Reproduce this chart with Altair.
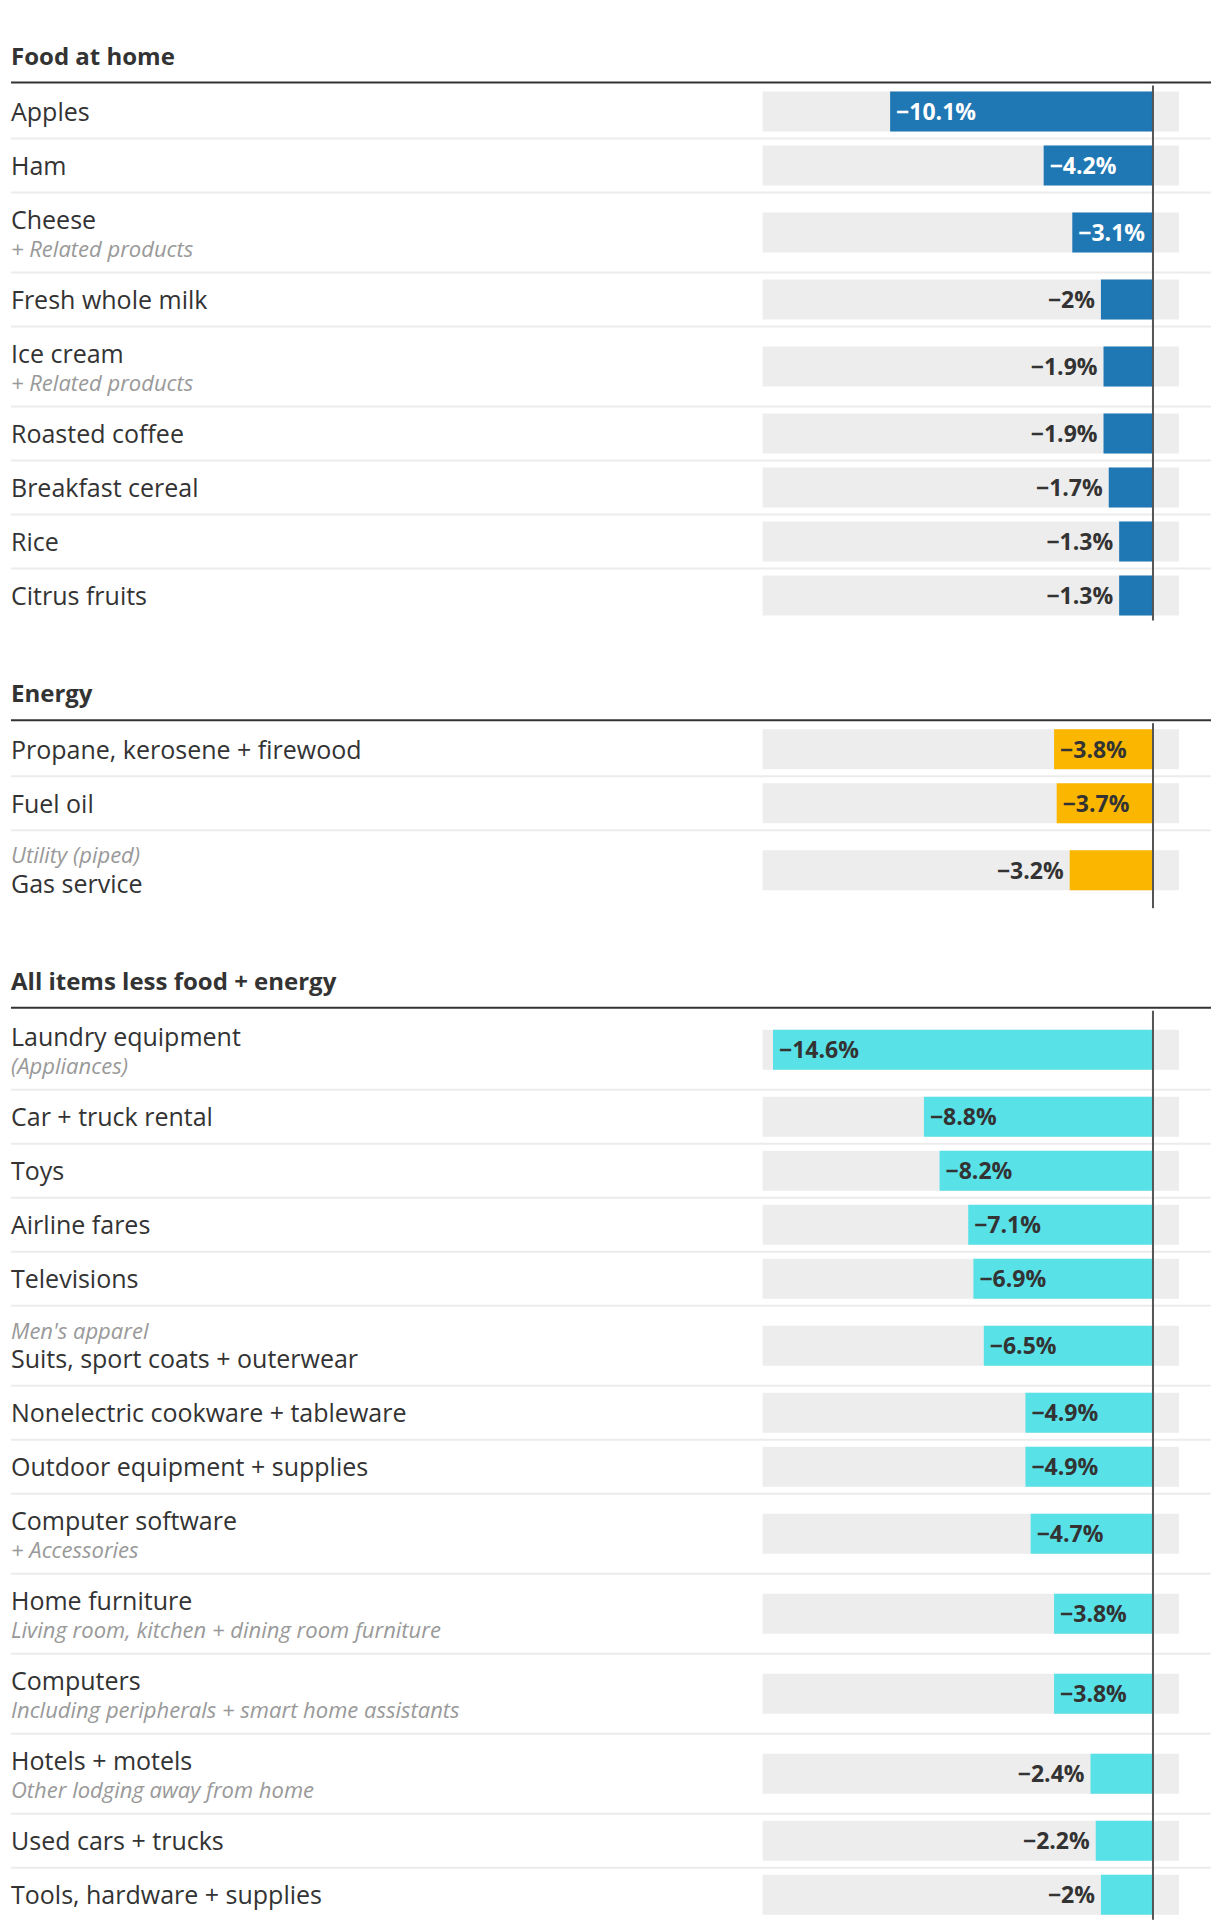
import altair as alt
import pandas as pd

# ---------------- data ----------------
section_titles = ["Food at home", "Energy", "All items less food + energy"]

food_names = ["Apples", "Ham", "Cheese", "Fresh whole milk", "Ice cream",
              "Roasted coffee", "Breakfast cereal", "Rice", "Citrus fruits"]
food_notes = ["", "", "+ Related products", "", "+ Related products", "", "", "", ""]
food_values = [-10.1, -4.2, -3.1, -2.0, -1.9, -1.9, -1.7, -1.3, -1.3]

energy_names = ["Propane, kerosene + firewood", "Fuel oil", "Gas service"]
energy_notes = ["", "", "Utility (piped)"]
energy_values = [-3.8, -3.7, -3.2]

core_names = ["Laundry equipment", "Car + truck rental", "Toys", "Airline fares",
              "Televisions", "Suits, sport coats + outerwear",
              "Nonelectric cookware + tableware", "Outdoor equipment + supplies",
              "Computer software", "Home furniture", "Computers", "Hotels + motels",
              "Used cars + trucks", "Tools, hardware + supplies"]
core_notes = ["(Appliances)", "", "", "", "", "Men's apparel", "", "",
              "+ Accessories", "Living room, kitchen + dining room furniture",
              "Including peripherals + smart home assistants",
              "Other lodging away from home", "", ""]
core_values = [-14.6, -8.8, -8.2, -7.1, -6.9, -6.5, -4.9, -4.9, -4.7, -3.8, -3.8,
               -2.4, -2.2, -2.0]

# notes printed above the item name instead of below
notes_above = ["Gas service", "Suits, sport coats + outerwear"]

# ---------------- style / layout ----------------
bar_colors = ["#1f77b4", "#fbb700", "#59e1e8"]
inside_label_colors = ["#ffffff", "#333333", "#333333"]

W, H = 1200, 1916
X_MIN, X_MAX = -15, 1
X_RANGE = [751.6, 1168.0]
PX_PER_PCT = (X_RANGE[1] - X_RANGE[0]) / (X_MAX - X_MIN)

TOP = 48.0          # center of first section title
TITLE_TO_LINE = 26.6
LINE_TO_ROWS = 2
ROW_SINGLE, ROW_DOUBLE = 54, 80
SECTION_GAP = 71    # last row bottom -> next title
BAR_H = 40
TEXT_DY = 1.5

FONT = "Open Sans"
CHAR_W = {"\u2212": 9, "1": 8, ".": 5, "%": 17}


def fmt(v):
    return "\u2212" + f"{abs(v):g}" + "%"


def label_width(s):
    return sum(CHAR_W.get(c, 12.5) for c in s)


sections = [
    (food_names, food_notes, food_values),
    (energy_names, energy_notes, energy_values),
    (core_names, core_notes, core_values),
]

rows, heads, seps, zeros = [], [], [], []
y = TOP
for si, (names, notes, values) in enumerate(sections):
    line_y = y + TITLE_TO_LINE
    heads.append({"title": section_titles[si], "title_y": y, "line_y": line_y})
    top = line_y + LINE_TO_ROWS
    for i, (n, note, v) in enumerate(zip(names, notes, values)):
        h = ROW_DOUBLE if note else ROW_SINGLE
        c = top + h / 2
        if not note:
            name_y, note_y = c, None
        elif n in notes_above:
            note_y, name_y = top + 24.5, top + 53
        else:
            name_y, note_y = top + 27, top + 56
        lab = fmt(v)
        inside = abs(v) * PX_PER_PCT >= label_width(lab) + 28
        rows.append({
            "name": n, "note": note, "value": v, "label": lab,
            "center": c, "y0": c - BAR_H / 2, "y1": c + BAR_H / 2,
            "name_y": name_y, "note_y": note_y,
            "inside": inside,
            "bar_color": bar_colors[si],
            "label_color": inside_label_colors[si] if inside else "#333333",
        })
        top += h
        if i < len(names) - 1:
            seps.append({"y": top})
    zeros.append({"y0": line_y + 3, "y1": top - 2})
    y = top + SECTION_GAP

rows_df = pd.DataFrame(rows)
notes_df = rows_df[rows_df["note"] != ""]
heads_df = pd.DataFrame(heads)
seps_df = pd.DataFrame(seps)
zeros_df = pd.DataFrame(zeros)

xs = alt.Scale(domain=[X_MIN, X_MAX], range=X_RANGE)
ys = alt.Scale(domain=[0, H], range=[0, H])

base = alt.Chart(rows_df)

bg = base.mark_rect(color="#ededed").encode(
    x=alt.XDatum(X_MIN, scale=xs, axis=None),
    x2=alt.X2Datum(X_MAX),
    y=alt.Y("y0:Q", scale=ys, axis=None),
    y2="y1:Q",
)

bars = base.mark_rect().encode(
    x=alt.X("value:Q", scale=xs, axis=None),
    x2=alt.X2Datum(0),
    y=alt.Y("y0:Q", scale=ys, axis=None),
    y2="y1:Q",
    color=alt.Color("bar_color:N", scale=None),
)

sep_rules = alt.Chart(seps_df).mark_rule(color="#ececec", strokeWidth=2).encode(
    x=alt.value(0), x2=alt.value(W),
    y=alt.Y("y:Q", scale=ys, axis=None),
)

zero_rules = alt.Chart(zeros_df).mark_rule(color="#555555", strokeWidth=2).encode(
    x=alt.XDatum(0, scale=xs, axis=None),
    y=alt.Y("y0:Q", scale=ys, axis=None),
    y2="y1:Q",
)

head_rules = alt.Chart(heads_df).mark_rule(color="#333333", strokeWidth=2).encode(
    x=alt.value(0), x2=alt.value(W),
    y=alt.Y("line_y:Q", scale=ys, axis=None),
)

head_text = alt.Chart(heads_df).mark_text(
    align="left", baseline="middle", dy=TEXT_DY, font=FONT, fontSize=24,
    fontWeight="bold", color="#333333",
).encode(
    x=alt.value(0),
    y=alt.Y("title_y:Q", scale=ys, axis=None),
    text="title:N",
)

name_text = base.mark_text(
    align="left", baseline="middle", dy=TEXT_DY, font=FONT, fontSize=25,
    color="#333333",
).encode(
    x=alt.value(0),
    y=alt.Y("name_y:Q", scale=ys, axis=None),
    text="name:N",
)

note_text = alt.Chart(notes_df).mark_text(
    align="left", baseline="middle", dy=TEXT_DY, font=FONT, fontSize=22,
    fontStyle="italic", color="#999999",
).encode(
    x=alt.value(0),
    y=alt.Y("note_y:Q", scale=ys, axis=None),
    text="note:N",
)

val_in = base.transform_filter("datum.inside").mark_text(
    align="left", baseline="middle", dx=6, dy=TEXT_DY, font=FONT, fontSize=23,
    fontWeight="bold",
).encode(
    x=alt.X("value:Q", scale=xs, axis=None),
    y=alt.Y("center:Q", scale=ys, axis=None),
    text="label:N",
    color=alt.Color("label_color:N", scale=None),
)

val_out = base.transform_filter("!datum.inside").mark_text(
    align="right", baseline="middle", dx=-6, dy=TEXT_DY, font=FONT, fontSize=23,
    fontWeight="bold", color="#333333",
).encode(
    x=alt.X("value:Q", scale=xs, axis=None),
    y=alt.Y("center:Q", scale=ys, axis=None),
    text="label:N",
)

chart = alt.layer(
    bg, bars, sep_rules, zero_rules, head_rules, head_text, name_text, note_text,
    val_in, val_out,
).properties(
    width=W, height=H,
    padding={"left": 2, "top": 0, "right": 0, "bottom": 0},
    background="#ffffff",
).configure_view(stroke=None)

chart.save("out.html", embed_options={"renderer": "svg", "actions": False})
